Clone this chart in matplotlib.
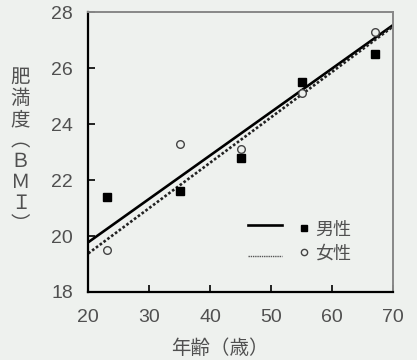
import matplotlib
matplotlib.use("Agg")
import matplotlib.pyplot as plt
from matplotlib.lines import Line2D

plt.rcParams['font.family'] = ['Noto Sans CJK JP', 'DejaVu Sans']

ages = [23, 35, 45, 55, 67]
male_bmi = [21.4, 21.6, 22.8, 25.5, 26.5]
female_bmi = [19.5, 23.3, 23.1, 25.1, 27.3]
fit_x = [20, 70]
male_fit = [19.78, 27.55]
female_fit = [19.38, 27.5]
xticks = [20, 30, 40, 50, 60, 70]
yticks = [18, 20, 22, 24, 26, 28]
labels = ['男性', '女性']

bg = '#eef1ee'
txt = '#505050'

fig = plt.figure(figsize=(4.17, 3.6), dpi=100, facecolor=bg)
ax = fig.add_axes([0.2118, 0.1889, 0.7314, 0.7769], facecolor=bg)

ax.plot(fit_x, male_fit, color='black', lw=1.9, solid_capstyle='butt')
ax.plot(fit_x, female_fit, color='#222222', lw=1.9, linestyle=(0, (1, 0.8)))
ax.plot(ages, male_bmi, 's', color='black', ms=5.2, ls='none')
ax.plot(ages, female_bmi, 'o', mfc=bg, mec='#444444', mew=1.0, ms=5.5, ls='none')

ax.set_xlim(20, 70)
ax.set_ylim(18, 28)
ax.set_xticks(xticks)
ax.set_yticks(yticks)
ax.tick_params(direction='in', length=5, width=1.2, colors='black',
               labelcolor=txt, labelsize=14)
ax.tick_params(axis='x', pad=12)
ax.tick_params(axis='y', pad=11)
for lab in ax.get_xticklabels() + ax.get_yticklabels():
    lab.set_family(['Liberation Sans', 'DejaVu Sans'])

ax.spines['left'].set_color('black')
ax.spines['bottom'].set_color('black')
ax.spines['left'].set_linewidth(1.6)
ax.spines['bottom'].set_linewidth(1.6)
ax.spines['top'].set_color('#888888')
ax.spines['right'].set_color('#888888')
ax.spines['top'].set_linewidth(1.4)
ax.spines['right'].set_linewidth(1.4)

# legend: lines column
line_handles = [Line2D([], [], color='black', lw=1.9),
                Line2D([], [], color='#555555', lw=1.0, linestyle=(0, (1, 0.6)))]
leg1 = ax.legend(line_handles, ['', ''], loc='center', bbox_to_anchor=(0.58, 0.18),
                 frameon=False, handlelength=1.95, handletextpad=0, labelspacing=0.75,
                 fontsize=12.5, borderpad=0)
ax.add_artist(leg1)
mark_handles = [Line2D([], [], marker='s', color='black', ms=4.5, ls='none'),
                Line2D([], [], marker='o', mfc=bg, mec='#444444', mew=1.0, ms=4.5, ls='none')]
leg2 = ax.legend(mark_handles, labels, loc='center', bbox_to_anchor=(0.778, 0.18),
                 frameon=False, handlelength=0.5, handletextpad=0.35, labelspacing=0.32,
                 fontsize=13, borderpad=0, labelcolor=txt)

ylabel_chars = ['肥', '満', '度', '︵', 'Ｂ', 'Ｍ', 'Ｉ', '︶']
fig.text(0.049, 0.58, '\n'.join(ylabel_chars), ha='center', va='center',
         fontsize=14, color=txt, linespacing=1.0)
fig.text(0.528, 0.003, '年齢（歳）', ha='center', va='bottom', fontsize=14, color=txt)

fig.savefig('out.png', dpi=100, facecolor=bg)
